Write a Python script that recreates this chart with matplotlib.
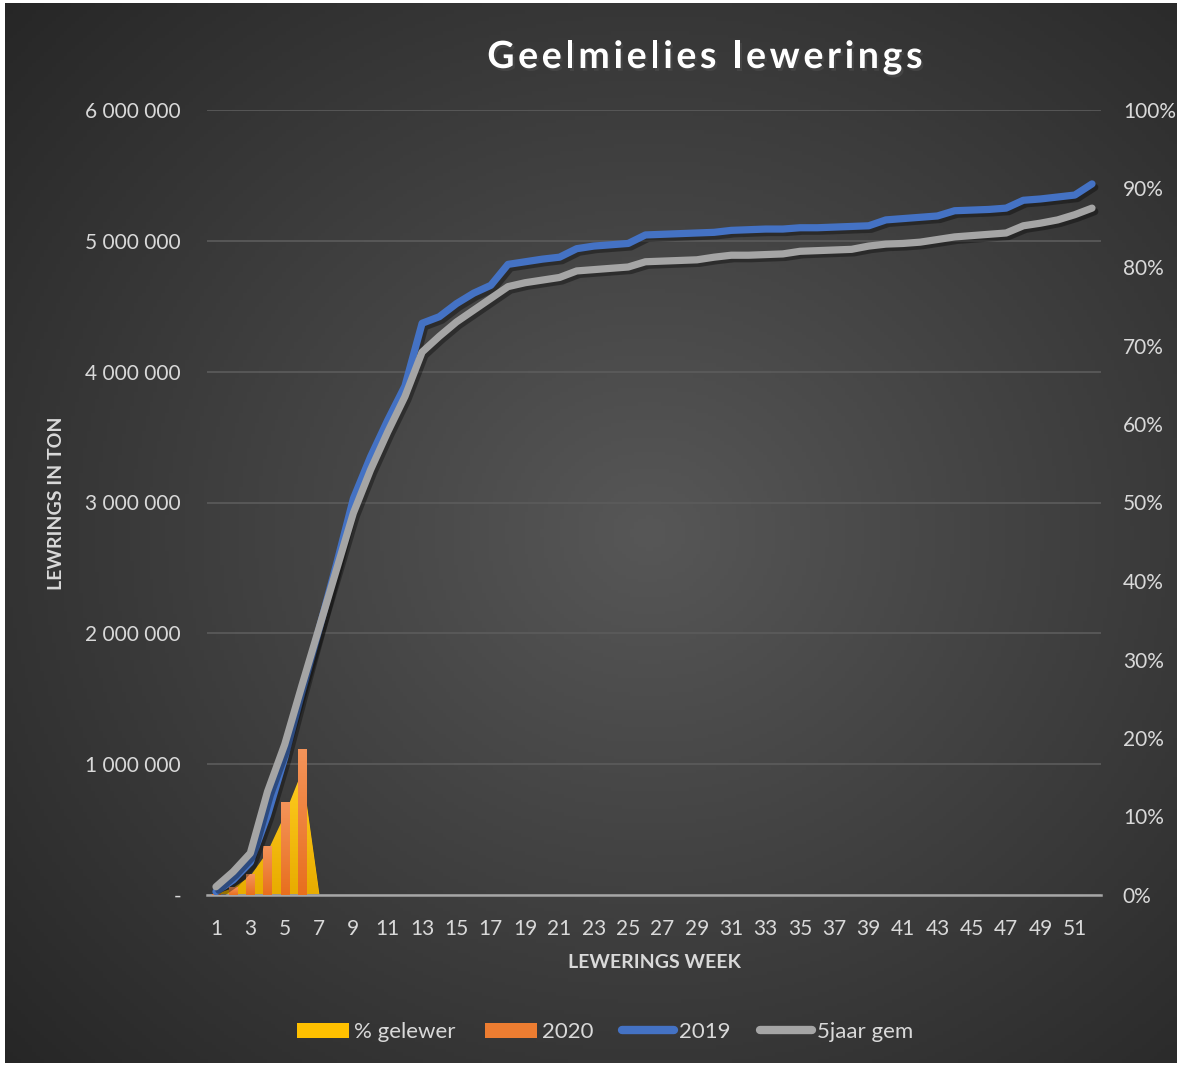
import numpy as np
import matplotlib.pyplot as plt
import matplotlib.patheffects as pe
from matplotlib.patches import Patch
from matplotlib.lines import Line2D
from matplotlib.colors import LinearSegmentedColormap
from matplotlib.ticker import FuncFormatter

plt.rcParams['font.family'] = ['Lato', 'DejaVu Sans']

# data
weeks = np.arange(1, 53)
tick_weeks = np.arange(1, 52, 2)

pct_weeks = [1, 2, 3, 4, 5, 6, 7]
pct_gelewer = [0.001, 0.009, 0.024, 0.055, 0.102, 0.157, 0.0]

weeks_2020 = [1, 2, 3, 4, 5, 6]
lewerings_2020 = [10000, 59000, 160000, 375000, 710000, 1116000]

lewerings_2019 = [25000, 115000, 250000, 610000, 1050000, 1550000, 2030000, 2520000,
                  3030000, 3350000, 3630000, 3890000, 4370000, 4420000, 4520000,
                  4600000, 4660000, 4820000, 4840000, 4860000, 4875000, 4940000,
                  4960000, 4970000, 4980000, 5045000, 5050000, 5055000, 5060000,
                  5065000, 5080000, 5085000, 5090000, 5090000, 5100000, 5100000,
                  5105000, 5110000, 5115000, 5160000, 5170000, 5180000, 5190000,
                  5230000, 5235000, 5240000, 5250000, 5310000, 5320000, 5335000,
                  5350000, 5435000]

gem_5jaar = [63000, 178000, 320000, 790000, 1150000, 1600000, 2040000, 2480000,
             2920000, 3250000, 3540000, 3810000, 4150000, 4270000, 4380000,
             4470000, 4560000, 4650000, 4680000, 4700000, 4720000, 4770000,
             4780000, 4790000, 4800000, 4840000, 4845000, 4850000, 4855000,
             4875000, 4890000, 4890000, 4895000, 4900000, 4920000, 4925000,
             4930000, 4935000, 4960000, 4975000, 4980000, 4990000, 5010000,
             5030000, 5040000, 5050000, 5060000, 5115000, 5135000, 5160000,
             5200000, 5250000]

txt = '#d9d9d9'
W, H = 1181, 1067
fig = plt.figure(figsize=(W / 100, H / 100), dpi=100, facecolor='white')

# achtergrond met radiale gradient
bg = fig.add_axes([0.004, 0.004, 0.992, 0.993], zorder=-1)
yy, xx = np.mgrid[0:1:300j, 0:1:300j]
r = np.sqrt(((xx - 0.55) / 0.75) ** 2 + ((yy - 0.5) / 0.75) ** 2)
r = np.clip(r, 0, 1)
c0, c1 = np.array([0x57, 0x57, 0x57]) / 255, np.array([0x26, 0x26, 0x26]) / 255
img = c0[None, None, :] * (1 - r[..., None]) + c1[None, None, :] * r[..., None]
bg.imshow(img, aspect='auto', extent=[0, 1, 0, 1])
bg.axis('off')

rect = [207.4 / W, 1 - 895 / H, (1100.6 - 207.4) / W, (895 - 110) / H]
ax = fig.add_axes(rect)          # persentasie-as (regs)
ax2 = ax.twinx()                 # tonne-as (links)
ax.set_facecolor('none')
ax2.set_facecolor('none')

# % gelewer area
ax.set_ylim(0, 1)
poly = ax.fill_between(pct_weeks, pct_gelewer, color='#FFC000', lw=0)
ycmap = LinearSegmentedColormap.from_list('y', ['#E8AC00', '#FFCB1F'])
im = ax.imshow(np.linspace(0, 1, 100).reshape(-1, 1), cmap=ycmap, origin='lower',
               extent=[1, 7, 0, max(pct_gelewer)], aspect='auto', zorder=2)
im.set_clip_path(poly.get_paths()[0], transform=ax.transData)

# 2020 stawe
ocmap = LinearSegmentedColormap.from_list('o', ['#E86F1E', '#F4945A'])
bars = ax2.bar(weeks_2020, lewerings_2020, width=0.48, color='#ED7D31', zorder=3)
for b in bars:
    x0, y0 = b.get_x(), b.get_y()
    bim = ax2.imshow(np.linspace(0, 1, 100).reshape(-1, 1), cmap=ocmap, origin='lower',
                     extent=[x0, x0 + b.get_width(), y0, y0 + b.get_height()],
                     aspect='auto', zorder=3.1)
    bim.set_clip_path(b)

shadow = [pe.SimpleLineShadow(offset=(2, -2.5), alpha=0.35, shadow_color='black'), pe.Normal()]
ax2.plot(weeks, gem_5jaar, color='#A5A5A5', lw=5.2, solid_capstyle='round',
         solid_joinstyle='round', zorder=5, path_effects=shadow)
ax2.plot(weeks, lewerings_2019, color='#4472C4', lw=5.2, solid_capstyle='round',
         solid_joinstyle='round', zorder=4, path_effects=shadow)

ax2.set_ylim(0, 6000000)
ax2.set_yticks(np.arange(0, 6000001, 1000000))
ax2.yaxis.set_major_formatter(FuncFormatter(
    lambda v, p: '-' if v == 0 else f'{int(v):,}'.replace(',', ' ')))
ax2.yaxis.tick_left()
ax2.grid(axis='y', color='#5c5c5c', lw=1.2, zorder=0)
ax2.set_axisbelow(True)

ax.set_yticks(np.arange(0, 1.01, 0.1))
ax.set_yticklabels([f'{int(round(v * 100))}%' for v in np.arange(0, 1.01, 0.1)])
ax.yaxis.tick_right()

ax.set_xlim(0.5, 52.5)
ax2.set_xlim(0.5, 52.5)
ax.set_xticks(tick_weeks)
ax.set_xticklabels([str(w) for w in tick_weeks])

for a in (ax, ax2):
    for s in a.spines.values():
        s.set_visible(False)
ax2.spines['bottom'].set_visible(True)
ax2.spines['bottom'].set_color('#a6a6a6')
ax2.spines['bottom'].set_linewidth(1.8)

ax.tick_params(axis='x', length=0, pad=17.5, labelsize=15, labelcolor=txt)
ax.tick_params(axis='y', length=0, pad=16, labelsize=15, labelcolor=txt)
ax2.tick_params(axis='y', length=0, pad=19, labelsize=15, labelcolor=txt)
ax2.tick_params(axis='x', length=0, labelbottom=False)

# titel met letterspasiëring
title = 'Geelmielies lewerings'
tkw = dict(color='white', fontsize=27, fontweight='bold', va='center', ha='left',
           path_effects=[pe.withSimplePatchShadow(offset=(1.5, -2), alpha=0.6)])
renderer = fig.canvas.get_renderer()
spacing = 3.7
widths = []
for ch in title:
    if ch == ' ':
        widths.append(9.0)
        continue
    t = fig.text(0, 0, ch, **tkw)
    widths.append(t.get_window_extent(renderer).width)
    t.remove()
total = sum(widths) + spacing * (len(title) - 1)
xpos = 705 - total / 2
for ch, w in zip(title, widths):
    if ch != ' ':
        fig.text(xpos / W, 1 - 57 / H, ch, **tkw)
    xpos += w + spacing

fig.text(57 / W, 1 - 503 / H, 'LEWRINGS IN TON', color=txt, fontsize=14,
         fontweight='bold', rotation=90, ha='center', va='center')
fig.text(654 / W, 1 - 963 / H, 'LEWERINGS WEEK', color=txt, fontsize=14,
         fontweight='bold', ha='center', va='center')

handles = [Patch(facecolor='#FFC000', edgecolor='none'),
           Patch(facecolor='#ED7D31', edgecolor='none'),
           Line2D([], [], color='#4472C4', lw=6, solid_capstyle='round'),
           Line2D([], [], color='#A5A5A5', lw=6, solid_capstyle='round')]
labels = ['% gelewer', '2020', '2019', '5jaar gem']
leg = fig.legend(handles, labels, loc='center', bbox_to_anchor=(605 / W, 1 - 1032 / H),
                 ncol=4, frameon=False, fontsize=16, handlelength=2.35,
                 handleheight=0.65, handletextpad=0.22, columnspacing=1.3)
for t in leg.get_texts():
    t.set_color(txt)

fig.savefig('out.png', dpi=100, facecolor=fig.get_facecolor())
